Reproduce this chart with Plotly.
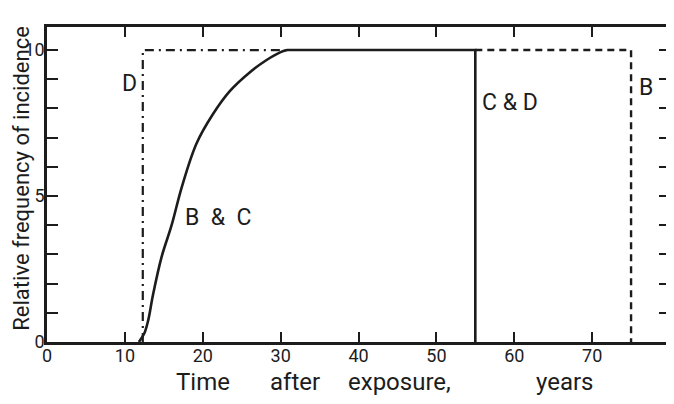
import plotly.graph_objects as go

# ---- data ----
x_ticks = [0, 10, 20, 30, 40, 50, 60, 70, 80]
x_tick_labels = ["0", "10", "20", "30", "40", "50", "60", "70", "80"]
y_ticks = [0, 1, 2, 3, 4, 5, 6, 7, 8, 9, 10]
y_tick_labels = ["0", "", "", "", "", "5", "", "", "", "", "10"]

# B & C rising curve
bc_x = [11.8, 12.5, 13.0, 13.6, 14.7, 16.0, 17.3, 19.2, 21.3, 23.5, 26.1, 28.2, 30.0, 30.8]
bc_y = [0.0, 0.3, 0.75, 1.6, 2.9, 4.0, 5.3, 6.8, 7.8, 8.6, 9.25, 9.66, 9.93, 10.0]
# plateau and drop of C (and D)
cd_x = [30.8, 55.0, 55.0]
cd_y = [10.0, 10.0, 0.0]
# D: abrupt rise (dash-dot)
d_x = [12.3, 12.3, 30.8]
d_y = [0.0, 10.0, 10.0]
# B: continues to 75 (dashed)
b_x = [55.0, 75.0, 75.0]
b_y = [10.0, 10.0, 0.0]

curve_labels = ["D", "B\u00a0\u00a0&\u00a0\u00a0C", "C & D", "B"]
label_x = [10.6, 22.0, 59.4, 76.9]
label_y = [8.84, 4.25, 8.2, 8.73]

title_words = ["Time", "after", "exposure,", "years"]
title_word_x = [20.0, 31.8, 45.3, 66.5]

INK = "#1c1c1c"
FONT = "Roboto, Arial, sans-serif"

fig = go.Figure()
fig.add_trace(go.Scatter(x=d_x, y=d_y, mode="lines",
                         line=dict(color=INK, width=2.2, dash="9px,5px,2px,5px")))
fig.add_trace(go.Scatter(x=b_x, y=b_y, mode="lines",
                         line=dict(color=INK, width=2.4, dash="7px,5px")))
fig.add_trace(go.Scatter(x=bc_x, y=bc_y, mode="lines",
                         line=dict(color=INK, width=2.6, shape="spline")))
fig.add_trace(go.Scatter(x=cd_x, y=cd_y, mode="lines",
                         line=dict(color=INK, width=2.6)))

for t, xv, yv in zip(curve_labels, label_x, label_y):
    fig.add_annotation(x=xv, y=yv, xref="x", yref="y", text=t, showarrow=False,
                       font=dict(family=FONT, size=23, color=INK),
                       xanchor="center", yanchor="middle")

for t, xv in zip(title_words, title_word_x):
    fig.add_annotation(x=xv, y=-0.126, xref="x", yref="paper", text=t, showarrow=False,
                       font=dict(family=FONT, size=24, color=INK),
                       xanchor="center", yanchor="middle", borderpad=0)

fig.add_annotation(x=-0.0626, y=0.52, xref="paper", yref="paper",
                   text="Relative frequency of incidence", textangle=-90,
                   showarrow=False, font=dict(family=FONT, size=22, color=INK),
                   xanchor="left", yanchor="middle", borderpad=0)

fig.update_xaxes(range=[0, 80], tickvals=x_ticks, ticktext=x_tick_labels,
                 ticks="inside", ticklen=10, tickwidth=2, tickcolor=INK,
                 showline=True, linewidth=2.5, linecolor=INK, mirror="ticks",
                 showgrid=False, zeroline=False, ticklabelstandoff=-4, automargin=False,
                 tickfont=dict(family=FONT, size=18, color=INK))
fig.update_yaxes(range=[0, 10.79], tickvals=y_ticks, ticktext=y_tick_labels,
                 ticks="inside", ticklen=11, tickwidth=2, tickcolor=INK,
                 showline=True, linewidth=2.5, linecolor=INK, mirror="ticks",
                 showgrid=False, zeroline=False, ticklabelstandoff=-4, automargin=False,
                 tickfont=dict(family=FONT, size=18, color=INK))

# page body adds an 8px offset, so the figure is sized to the visible area
fig.update_layout(width=666, height=396, showlegend=False,
                  margin=dict(l=39, r=4, t=19, b=62),
                  paper_bgcolor="white", plot_bgcolor="white")

fig.write_html("out.html")
